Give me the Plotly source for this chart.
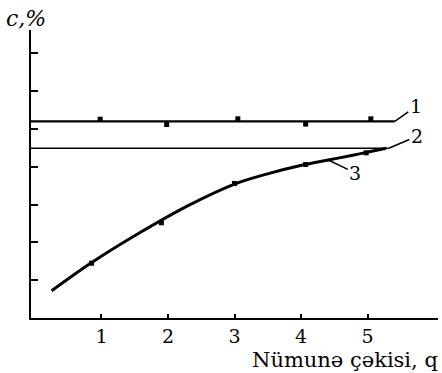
import plotly.graph_objects as go

# --- data ---
x_ticks = [1, 2, 3, 4, 5]
tick_labels = ["1", "2", "3", "4", "5"]
y_ticks = [0, 1, 2, 3, 4, 5, 6, 7]

# line 1 (horizontal level) and its measured points
line1_x = [-0.06, 5.41]
line1_y = [5.20, 5.20]
pts1_x = [0.98, 1.98, 3.05, 4.07, 5.05]
pts1_y = [5.26, 5.12, 5.27, 5.13, 5.27]

# line 2 (horizontal level)
line2_x = [-0.06, 5.32]
line2_y = [4.49, 4.49]

# curve 3 and its measured points
curve_x = [0.25, 0.83, 1.58, 2.31, 3.01, 3.51, 4.01, 4.41, 4.76, 5.01, 5.28]
curve_y = [0.72, 1.44, 2.26, 2.98, 3.55, 3.82, 4.04, 4.18, 4.30, 4.39, 4.49]
pts3_x = [0.85, 1.90, 3.00, 4.07, 4.98]
pts3_y = [1.45, 2.52, 3.56, 4.06, 4.37]

FONT = "DejaVu Serif"

fig = go.Figure()
fig.add_trace(go.Scatter(x=line1_x, y=line1_y, mode="lines",
                         line=dict(color="black", width=2.2), hoverinfo="skip"))
fig.add_trace(go.Scatter(x=pts1_x, y=pts1_y, mode="markers",
                         marker=dict(symbol="square", size=5, color="black"), hoverinfo="skip"))
fig.add_trace(go.Scatter(x=line2_x, y=line2_y, mode="lines",
                         line=dict(color="black", width=1.6), hoverinfo="skip"))
fig.add_trace(go.Scatter(x=curve_x, y=curve_y, mode="lines",
                         line=dict(color="black", width=3, shape="spline", smoothing=0.8),
                         hoverinfo="skip"))
fig.add_trace(go.Scatter(x=pts3_x, y=pts3_y, mode="markers",
                         marker=dict(symbol="square", size=5, color="black"), hoverinfo="skip"))

ann_font = dict(family=FONT, size=19, color="black")
annotations = [
    dict(x=line1_x[1], y=line1_y[1], xref="x", yref="y", text="1", showarrow=True,
         arrowhead=0, arrowwidth=1.5, arrowcolor="black", ax=21, ay=-15, font=ann_font),
    dict(x=line2_x[1], y=line2_y[1], xref="x", yref="y", text="2", showarrow=True,
         arrowhead=0, arrowwidth=1.5, arrowcolor="black", ax=28, ay=-12, font=ann_font),
    dict(x=curve_x[7], y=curve_y[7], xref="x", yref="y", text="3", showarrow=True,
         arrowhead=0, arrowwidth=1.5, arrowcolor="black", ax=27, ay=13, font=ann_font),
    dict(x=-0.066, y=1.04, xref="paper", yref="paper", text="<i>c,%</i>", showarrow=False,
         xanchor="left", yanchor="middle", font=dict(family=FONT, size=22, color="black")),
    dict(x=1.005, y=-0.147, xref="paper", yref="paper", text="Nümunə çəkisi, q",
         showarrow=False, xanchor="right", yanchor="middle",
         font=dict(family=FONT, size=21, color="black")),
]

fig.update_layout(
    width=442, height=373,
    margin=dict(l=31, r=4, t=30, b=55),
    paper_bgcolor="white", plot_bgcolor="white",
    showlegend=False,
    font=dict(family=FONT, color="black"),
    annotations=annotations,
    xaxis=dict(range=[-0.06, 6.06], tickvals=x_ticks, ticktext=tick_labels,
               ticks="inside", ticklen=4, tickwidth=2, tickcolor="black",
               showline=True, linecolor="black", linewidth=2,
               showgrid=False, zeroline=False,
               tickfont=dict(family=FONT, size=19, color="black")),
    yaxis=dict(range=[0, 7.62], tickvals=y_ticks, showticklabels=False,
               ticks="inside", ticklen=7, tickwidth=2, tickcolor="black",
               showline=True, linecolor="black", linewidth=2,
               showgrid=False, zeroline=False),
)

fig.write_html("out.html", config={"displayModeBar": False},
               post_script="document.body.style.margin='0';document.body.style.overflow='hidden';")
